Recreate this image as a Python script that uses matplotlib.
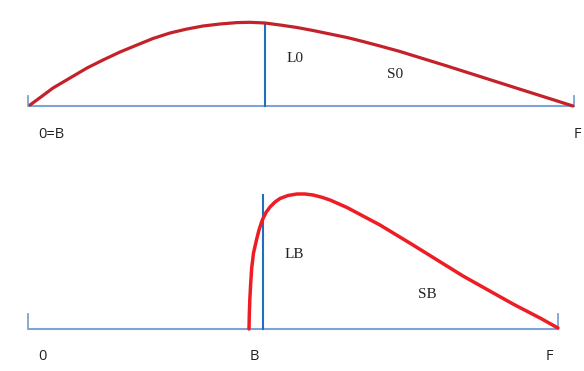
import matplotlib.pyplot as plt

# diagram drawn in pixel space of the original image (y grows downward)
top_curve_x = [30, 42, 53, 70, 87, 103, 120, 137, 153, 170, 187, 203, 220, 237, 250, 265, 280, 297, 313, 330, 347, 363, 380, 400, 447, 513, 573]
top_curve_y = [105, 96.2, 88, 78, 68, 60, 52, 45, 38.5, 33, 29, 26, 24, 22.6, 22.3, 23, 25, 27.5, 30.5, 34, 37.5, 41.5, 46, 51.5, 66, 87, 106]

bottom_curve_x = [249, 249.3, 249.8, 250.6, 251.7, 253.5, 256.7, 259, 262.3, 266, 270, 275, 280, 288, 297, 305, 313, 322, 330, 347, 363, 380, 413, 463, 513, 540, 558]
bottom_curve_y = [329, 315, 300, 285, 268, 253, 239, 230, 220, 212.5, 207, 202, 198.5, 195.5, 194, 194, 195, 197.3, 200, 207.5, 216, 225, 245, 276, 304, 318, 328]

top_base = {"x": [28, 574], "y": 106}
bottom_base = {"x": [28, 558], "y": 329}
top_marker_x = 265
top_marker_top = 23
bottom_marker_x = 262.5
bottom_marker_top = 195

serif_labels = [("L0", 295, 58), ("S0", 395, 75), ("LB", 294, 255), ("SB", 427, 294)]
axis_labels = [("0=B", 51, 134.5), ("F", 577, 135), ("0", 42, 357), ("B", 254, 357), ("F", 549, 357)]

fig = plt.figure(figsize=(5.84, 3.71), dpi=100)
ax = fig.add_axes([0, 0, 1, 1])
ax.set_xlim(0, 584)
ax.set_ylim(371, 0)
ax.axis("off")

base_col = "#7fa3d6"
for base, tick_top in [(top_base, 96), (bottom_base, 314)]:
    y = base["y"]
    x0, x1 = base["x"]
    ax.plot([x0, x1], [y, y], color=base_col, lw=1.5, solid_capstyle="butt")
    ax.plot([x0, x0], [tick_top, y], color=base_col, lw=1.3)
    ax.plot([x1, x1], [tick_top, y], color=base_col, lw=1.3)

ax.plot([top_marker_x, top_marker_x], [top_base["y"], top_marker_top], color="#1f6fbd", lw=1.5)
ax.plot([bottom_marker_x, bottom_marker_x], [bottom_base["y"], bottom_marker_top], color="#1f6fbd", lw=1.5)

ax.plot(top_curve_x, top_curve_y, color="#c3222b", lw=2.3, solid_capstyle="round", solid_joinstyle="round")
ax.plot(bottom_curve_x, bottom_curve_y, color="#ee1c25", lw=2.5, solid_capstyle="round", solid_joinstyle="round")

for txt, x, y in serif_labels:
    ax.text(x, y, txt, fontsize=11, family="Liberation Serif", ha="center", va="center", color="#222222")
for txt, x, y in axis_labels:
    ax.text(x, y, txt, fontsize=10.5, family="Open Sans", ha="center", va="center", color="#222222")

fig.savefig("out.png", dpi=100)
